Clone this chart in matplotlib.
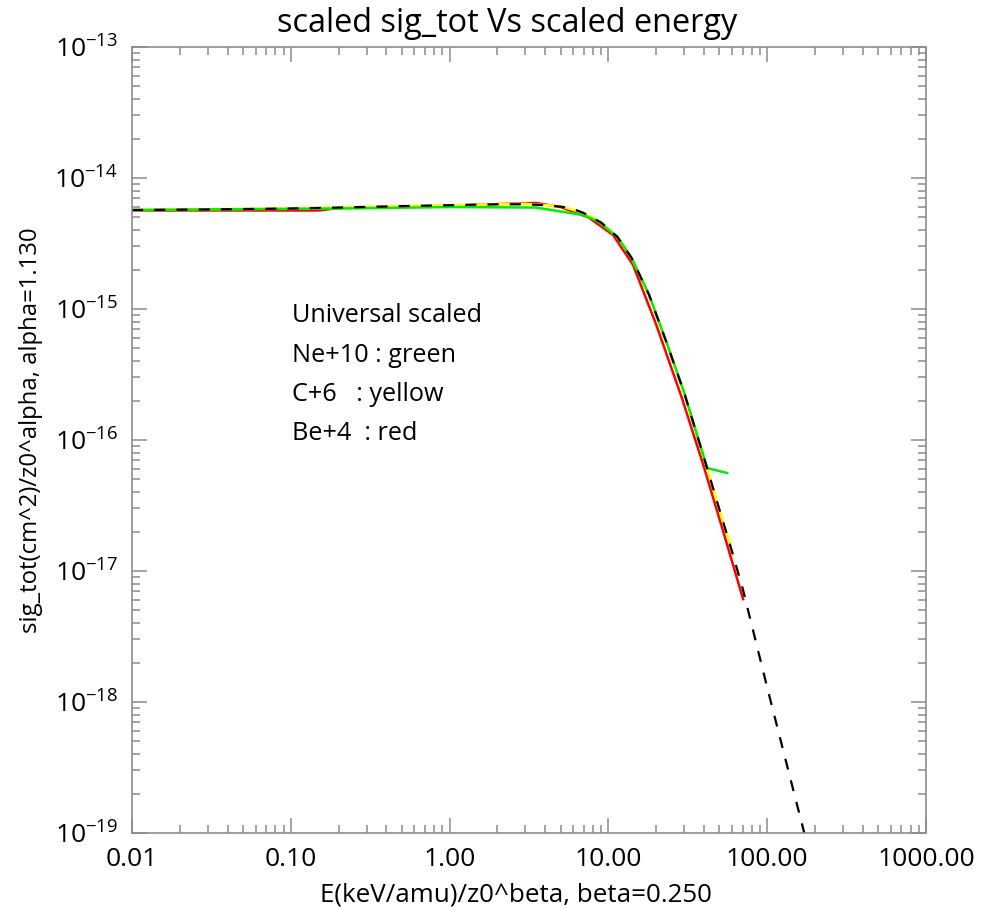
import numpy as np
import matplotlib
matplotlib.use("Agg")
import matplotlib.pyplot as plt
import matplotlib.ticker as mticker

plt.rcParams["font.family"] = ["Open Sans", "DejaVu Sans"]
plt.rcParams["mathtext.fontset"] = "custom"
plt.rcParams["mathtext.rm"] = "Open Sans"
plt.rcParams["mathtext.it"] = "Open Sans"

# universal scaled curve (black dashed)
x_univ = [0.01, 0.03, 0.1, 0.2, 0.5, 1.0, 2.0, 3.0, 4.0, 5.0, 6.0, 7.0, 9.0, 11.4, 14.0,
          18.0, 23.0, 30.0, 40.0, 50.0, 60.0, 70.0, 100.0, 150.0, 200.0, 300.0]
y_univ = [5.7e-15, 5.75e-15, 5.85e-15, 5.95e-15, 6.1e-15, 6.2e-15, 6.3e-15, 6.3e-15, 6.2e-15,
          6.05e-15, 5.8e-15, 5.4e-15, 4.57e-15, 3.55e-15, 2.45e-15,
          1.29e-15, 5.75e-16, 2.3e-16, 7.3e-17, 2.95e-17, 1.41e-17, 7.4e-18, 1.29e-18,
          1.87e-19, 4.8e-20, 8e-21]

# Ne+10 (green)
x_ne = [0.01, 0.2, 1.0, 3.5, 7.0, 8.5, 11.4, 14.0, 18.0, 23.0, 30.0, 41.9, 56.0]
y_ne = [5.7e-15, 5.85e-15, 6.0e-15, 5.95e-15, 5.2e-15, 4.7e-15, 3.55e-15, 2.45e-15,
        1.29e-15, 5.75e-16, 2.3e-16, 6.1e-17, 5.6e-17]

# C+6 (yellow)
x_c = [0.01, 0.1, 0.5, 1.0, 3.0, 5.0, 7.0, 9.0, 11.4, 14.0, 18.0, 23.0, 30.0, 40.0, 50.0, 61.0]
y_c = [5.7e-15, 5.85e-15, 6.1e-15, 6.2e-15, 6.35e-15, 6.1e-15, 5.4e-15, 4.6e-15, 3.55e-15,
       2.45e-15, 1.29e-15, 5.75e-16, 2.3e-16, 7.3e-17, 2.95e-17, 1.35e-17]

# Be+4 (red)
x_be = [0.01, 0.05, 0.15, 0.2, 1.0, 3.5, 5.0, 7.5, 10.7, 14.3, 20.0, 29.0, 40.0, 55.0, 70.5]
y_be = [5.65e-15, 5.65e-15, 5.65e-15, 5.9e-15, 6.15e-15, 6.45e-15, 6.0e-15, 5.0e-15, 3.67e-15,
        2.17e-15, 7.6e-16, 2.1e-16, 6.2e-17, 1.7e-17, 6.1e-18]

x_ticks = [0.01, 0.1, 1, 10, 100, 1000]
x_ticklabels = ["0.01", "0.10", "1.00", "10.00", "100.00", "1000.00"]
y_exps = [-19, -18, -17, -16, -15, -14, -13]

fig = plt.figure(figsize=(9.82, 9.08), dpi=100)
ax = fig.add_axes([132/982, 1-833/908, 794/982, 786/908])

ax.plot(x_be, y_be, color="#ff0000", lw=1.8)
ax.plot(x_c, y_c, color="#ffff00", lw=1.8)
ax.plot(x_ne, y_ne, color="#00ee00", lw=1.8)
ax.plot(x_univ, y_univ, color="black", lw=1.6, ls=(0, (5, 5)))

ax.set_xscale("log")
ax.set_yscale("log")
ax.set_xlim(0.01, 1000)
ax.set_ylim(1e-19, 1e-13)

ax.set_xticks(x_ticks)
ax.set_xticklabels(x_ticklabels)
ax.set_yticks([10.0**e for e in y_exps])
ax.set_yticklabels([r"$10^{%d}$" % e for e in y_exps])
ax.xaxis.set_minor_locator(mticker.LogLocator(base=10, subs=np.arange(2, 10)))
ax.yaxis.set_minor_locator(mticker.LogLocator(base=10, subs=np.arange(2, 10)))
ax.xaxis.set_minor_formatter(mticker.NullFormatter())
ax.yaxis.set_minor_formatter(mticker.NullFormatter())

for s in ax.spines.values():
    s.set_color("#8c8c8c")
    s.set_linewidth(1.2)
ax.tick_params(which="both", direction="in", top=True, right=True, color="#8c8c8c",
               width=1.1, labelsize=19)
ax.tick_params(which="major", length=11, pad=10)
ax.tick_params(which="minor", length=5.5)

xlab = fig.text(516/982, 1-901/908, "E(keV/amu)/z0^beta, beta=0.250", fontsize=20,
                ha="center", va="baseline")
# y label is narrower in the original, try a condensed face first
ylab = fig.text(31/982, 1-430/908, "sig_tot(cm^2)/z0^alpha, alpha=1.130", fontsize=18,
                family=["Liberation Sans Narrow", "Open Sans"],
                ha="center", va="center", rotation=90)
fig.text(507/982, 1-32/908, "scaled sig_tot Vs scaled energy", fontsize=23.4,
         ha="center", va="baseline")

legend_lines = ["Universal scaled", "Ne+10 : green", "C+6   : yellow", "Be+4  : red"]
legend_base = [322, 362, 401, 440]
for t, b in zip(legend_lines, legend_base):
    fig.text(292/982, 1-b/908, t, fontsize=18.2, va="baseline")

# fit label lengths to the measured ones
fig.canvas.draw()
r = fig.canvas.get_renderer()
h = ylab.get_window_extent(r).height
ylab.set_fontsize(18*405/h)
w = xlab.get_window_extent(r).width
xlab.set_fontsize(20*392/w)

fig.savefig("out.png", dpi=100)
